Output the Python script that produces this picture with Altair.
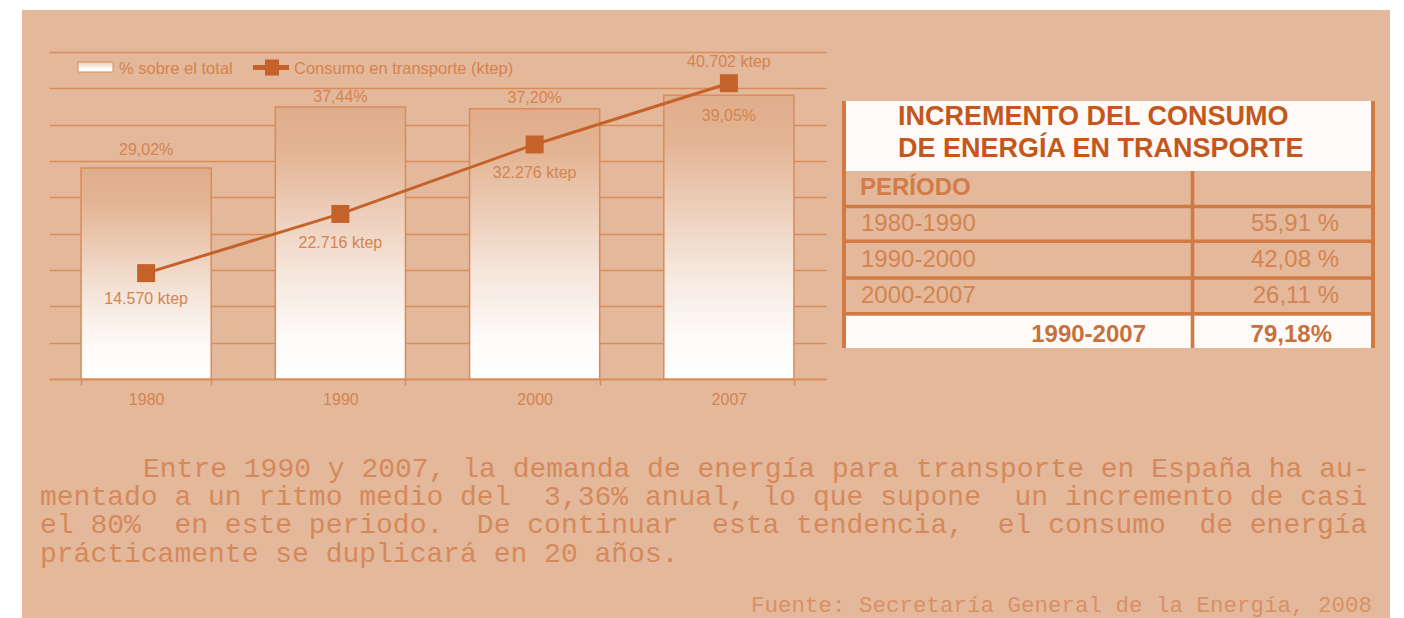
import altair as alt
import pandas as pd

# ---------------- data ----------------
YEARS = ["1980", "1990", "2000", "2007"]
PCT_TOTAL = [29.02, 37.44, 37.20, 39.05]          # % sobre el total
KTEP = [14570, 22716, 32276, 40702]                # Consumo en transporte (ktep)
GRID_VALUES = [0, 5, 10, 15, 20, 25, 30, 35, 40, 45]

LEGEND_LABELS = ["% sobre el total", "Consumo en transporte (ktep)"]

TABLE_TITLE = ["INCREMENTO DEL CONSUMO", "DE ENERGÍA EN TRANSPORTE"]
TABLE_HEADER = "PERÍODO"
PERIODS = ["1980-1990", "1990-2000", "2000-2007"]
INCREASES = [55.91, 42.08, 26.11]
TOTAL_PERIOD = "1990-2007"
TOTAL_INCREASE = 79.18

NB = "\u00a0"
PARAGRAPH = [
    "Entre 1990 y 2007, la demanda de energía para transporte en España ha au-",
    "mentado a un ritmo medio del" + NB + " 3,36% anual, lo que supone" + NB + " un incremento de casi",
    "el 80%" + NB + " en este periodo." + NB + " De continuar" + NB + " esta tendencia," + NB + " el consumo" + NB + " de energía",
    "prácticamente se duplicará en 20 años.",
]
SOURCE = "Fuente: Secretaría General de la Energía, 2008"

# ---------------- styles ----------------
BG = "#E4B89B"
GRID_C = "#D98C5A"
LINE_C = "#C4622A"
LABEL_C = "#D3844F"
TITLE_C = "#C3571C"
BORDER_C = "#D27A43"
WHITE = "#FEFAF8"
SANS = "Liberation Sans"
MONO = "Liberation Mono"


def es_num(v, dec):
    s = f"{v:,.{dec}f}"
    return s.replace(",", "X").replace(".", ",").replace("X", ".")


df = pd.DataFrame({
    "year": YEARS,
    "pct": PCT_TOTAL,
    "ktep": KTEP,
    "pct_label": [es_num(v, 2) + "%" for v in PCT_TOTAL],
    "ktep_label": [es_num(v, 0) + " ktep" for v in KTEP],
})

ONE = pd.DataFrame({"a": [0]})

bar_gradient = alt.Gradient(
    gradient="linear", x1=0, x2=0, y1=0, y2=1,
    stops=[
        alt.GradientStop(color="#E0AD8B", offset=0),
        alt.GradientStop(color="#E3B392", offset=0.15),
        alt.GradientStop(color="#EBC9B2", offset=0.35),
        alt.GradientStop(color="#F5E5DA", offset=0.6),
        alt.GradientStop(color="#FEFBF9", offset=0.85),
        alt.GradientStop(color="#FFFFFF", offset=1),
    ],
)

x_enc = alt.X(
    "year:N", sort=YEARS, title=None,
    scale=alt.Scale(paddingInner=0.33, paddingOuter=0.165),
    axis=alt.Axis(
        labelAngle=0, tickBand="extent", domainColor=GRID_C, domainWidth=1.5,
        tickColor=GRID_C, tickWidth=1.5, tickSize=6, labelColor=LABEL_C,
        labelFont=SANS, labelFontSize=16, labelPadding=6, grid=False,
    ),
)
pct_scale = alt.Scale(domain=[0, 45], nice=False, zero=True)
ktep_scale = alt.Scale(domain=[0, 45000], nice=False, zero=True)

layers = []


def box(x, x2, y, y2, fill, **kw):
    return alt.Chart(ONE).mark_rect(color=fill, **kw).encode(
        x=alt.value(x), x2=alt.value(x2), y=alt.value(y), y2=alt.value(y2))


def note(text, x, y, size, color, weight="normal", align="left", font=SANS):
    return alt.Chart(pd.DataFrame({"t": [text]})).mark_text(
        align=align, baseline="alphabetic", fontSize=size, font=font,
        fontWeight=weight, color=color,
    ).encode(x=alt.value(x), y=alt.value(y), text="t:N")


# white page margins around the tan panel
layers.append(box(-41, -27, -44, 566, "white"))
layers.append(box(-41, 1347, -44, -42, "white"))
layers.append(box(1341, 1347, -44, 566, "white"))

# bars with grid
bars = alt.Chart(df).mark_bar(color=bar_gradient, stroke=GRID_C, strokeWidth=1.5).encode(
    x=x_enc,
    y=alt.Y("pct:Q", scale=pct_scale, title=None,
            axis=alt.Axis(values=GRID_VALUES, grid=True, gridColor=GRID_C, gridWidth=1.5,
                          domain=False, ticks=False, labels=False)),
)
layers.append(bars)

# bar labels (offset per label to avoid the line)
PCT_DY = {"1980": -13, "1990": -5, "2000": -6, "2007": 26}
for yr in YEARS:
    layers.append(
        alt.Chart(df).transform_filter(alt.datum.year == yr).mark_text(
            baseline="alphabetic", fontSize=16, font=SANS, color=LABEL_C, dy=PCT_DY[yr]
        ).encode(x=x_enc, y=alt.Y("pct:Q", scale=pct_scale, axis=None), text="pct_label:N")
    )

# consumption line
layers.append(
    alt.Chart(df).mark_line(color=LINE_C, strokeWidth=3).encode(
        x=x_enc, y=alt.Y("ktep:Q", scale=ktep_scale, axis=None))
)
layers.append(
    alt.Chart(df).mark_square(color=LINE_C, size=324, opacity=1).encode(
        x=x_enc, y=alt.Y("ktep:Q", scale=ktep_scale, axis=None))
)
KTEP_DY = {"1980": 31, "1990": 34, "2000": 34, "2007": -16}
for yr in YEARS:
    layers.append(
        alt.Chart(df).transform_filter(alt.datum.year == yr).mark_text(
            baseline="alphabetic", fontSize=16, font=SANS, color=LABEL_C, dy=KTEP_DY[yr]
        ).encode(x=x_enc, y=alt.Y("ktep:Q", scale=ktep_scale, axis=None), text="ktep_label:N")
    )

# legend
legend_gradient = alt.Gradient(
    gradient="linear", x1=0, x2=0, y1=0, y2=1,
    stops=[alt.GradientStop(color="#EBCBB5", offset=0), alt.GradientStop(color="#FFFFFF", offset=0.7)],
)
layers.append(box(29, 64, 10, 20, legend_gradient, stroke=GRID_C, strokeWidth=1))
layers.append(note(LEGEND_LABELS[0], 70, 21.5, 16.5, LABEL_C))
layers.append(
    alt.Chart(ONE).mark_rule(color=LINE_C, strokeWidth=5).encode(
        x=alt.value(204), x2=alt.value(240), y=alt.value(15.5))
)
layers.append(box(216, 230, 7.5, 23.5, LINE_C))
layers.append(note(LEGEND_LABELS[1], 245, 21.5, 16.5, LABEL_C))

# table
layers.append(box(796, 1322, 49, 119, WHITE))
layers.append(box(796, 1322, 263.7, 296, WHITE))
layers.append(box(793, 797, 49, 296, BORDER_C))
layers.append(box(1322, 1326, 49, 296, BORDER_C))
layers.append(box(1141.7, 1145.3, 119, 296, BORDER_C))
for yy in [154.5, 189.3, 226, 261.7]:
    layers.append(box(793, 1326, yy - 1.8, yy + 1.8, BORDER_C))

layers.append(note(TABLE_TITLE[0], 849, 73, 27, TITLE_C, weight="bold"))
layers.append(note(TABLE_TITLE[1], 849, 104.7, 27, TITLE_C, weight="bold"))
layers.append(note(TABLE_HEADER, 811, 143, 24, "#D17D47", weight="bold"))
ROW_BASE = [179.4, 215.1, 251.3]
for p, v, yb in zip(PERIODS, INCREASES, ROW_BASE):
    layers.append(note(p, 812, yb, 24, LABEL_C))
    layers.append(note(es_num(v, 2) + " %", 1290, yb, 24, LABEL_C, align="right"))
layers.append(note(TOTAL_PERIOD, 1097, 289.7, 24, "#C8713C", weight="bold", align="right"))
layers.append(note(es_num(TOTAL_INCREASE, 2) + "%", 1283, 289.7, 24, "#C8713C", weight="bold", align="right"))

# paragraph (first line indented)
PARA_X = [94, -9, -9, -9]
for line, xb, yb in zip(PARAGRAPH, PARA_X, [424.7, 453, 481.3, 509.7]):
    layers.append(note(line, xb, yb, 28, "#D5895A", font=MONO))
layers.append(note(SOURCE, 1323, 559.7, 22.5, "#D89066", align="right", font=MONO))

chart = (
    alt.layer(*layers)
    .resolve_scale(y="independent")
    .properties(
        width=777, height=327,
        padding={"left": 41, "top": 44, "right": 570, "bottom": 239},
        autosize=alt.AutoSizeParams(type="none"),
        background=BG,
    )
    .configure_view(stroke=None)
)

chart.save("out.html", embed_options={"renderer": "svg", "actions": False})
